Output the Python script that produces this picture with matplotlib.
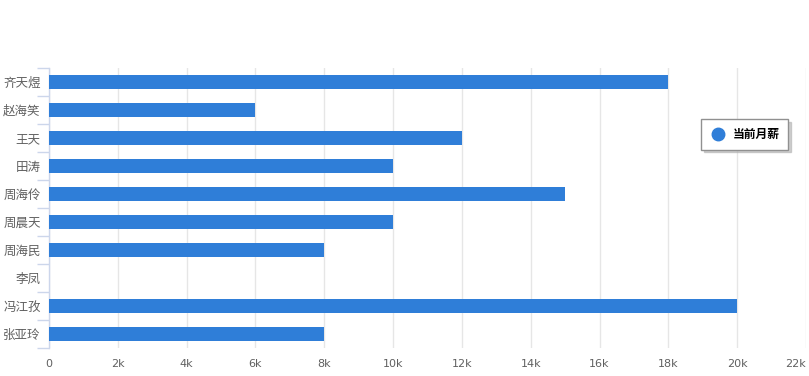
import matplotlib
matplotlib.use("Agg")
import matplotlib.pyplot as plt
from matplotlib.lines import Line2D
import numpy as np

plt.rcParams['font.family'] = ['Noto Sans CJK SC', 'DejaVu Sans']

categories = ["齐天煜", "赵海笑", "王天", "田涛", "周海伶", "周晨天", "周海民", "李凤", "冯江孜", "张亚玲"]
salary = [18000, 6000, 12000, 10000, 15000, 10000, 8000, 0, 20000, 8000]
xticks = [0, 2000, 4000, 6000, 8000, 10000, 12000, 14000, 16000, 18000, 20000, 22000]
xticklabels = ["0", "2k", "4k", "6k", "8k", "10k", "12k", "14k", "16k", "18k", "20k", "22k"]
series_name = "当前月薪"
bar_color = "#2f7ed8"

W, H = 809, 376
fig = plt.figure(figsize=(W/100, H/100), dpi=100)
ax = fig.add_axes([49/W, 1-348/H, (806-49)/W, (348-68)/H])

y = np.arange(len(categories))
ax.barh(y, salary, height=0.47, color=bar_color, zorder=3)
ax.set_ylim(len(categories)-0.5, -0.5)
ax.set_xlim(0, 22000)

ax.set_xticks(xticks)
labels = ax.set_xticklabels(xticklabels, fontsize=8, color="#606060", family=["DejaVu Sans"])
labels[-1].set_horizontalalignment('right')
ax.tick_params(axis='x', length=0, pad=8)
ax.grid(axis='x', color="#e6e6e6", linewidth=1, zorder=0)

ax.set_yticks(y)
ax.set_yticklabels(categories, fontsize=9, color="#606060")
ax.tick_params(axis='y', which='major', length=0, pad=6)
ax.set_yticks(np.arange(len(categories)+1) - 0.5, minor=True)
ax.tick_params(axis='y', which='minor', length=9, color="#ccd6eb", width=1)

for s in ["top", "right", "bottom"]:
    ax.spines[s].set_visible(False)
ax.spines["left"].set_color("#ccd6eb")
ax.spines["left"].set_linewidth(1)

handle = Line2D([], [], marker='o', linestyle='none', markersize=9, color=bar_color)
leg = fig.legend([handle], [series_name], loc='upper left',
                 bbox_to_anchor=(701/W, 1-119/H), frameon=True, fancybox=False,
                 shadow={'color': '#b0b0b0', 'alpha': 0.6},
                 prop={'weight': 'bold', 'size': 8.5},
                 handletextpad=0.6, borderpad=0.75, handlelength=1.3, borderaxespad=0)
leg.get_frame().set_edgecolor("#909090")
leg.get_frame().set_linewidth(1)

fig.savefig("out.png", dpi=100)
